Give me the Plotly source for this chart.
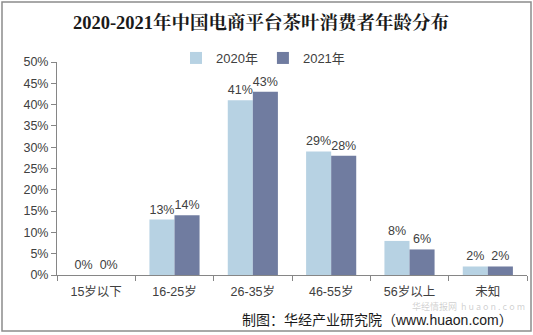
import plotly.graph_objects as go

categories = ["15岁以下", "16-25岁", "26-35岁", "46-55岁", "56岁以上", "未知"]
series_2020 = [0.00, 0.13, 0.41, 0.29, 0.08, 0.02]
series_2021 = [0.00, 0.14, 0.43, 0.28, 0.06, 0.02]
series_names = ["2020年", "2021年"]
colors = ["#b7d2e3", "#707ca0"]

W, H = 533, 335
L, R, T, B = 57, 6, 62, 60
pw = W - L - R
ph = H - T - B

def px_x(x):
    return (x - L) / pw

def px_y(y):
    return (H - B - y) / ph

FONT = "Liberation Sans, Noto Sans CJK SC"

fig = go.Figure()
for name, vals, c in zip(series_names, [series_2020, series_2021], colors):
    fig.add_trace(go.Bar(
        x=categories, y=vals, name=name, marker_color=c,
        marker_line_width=0,
        text=[f"{round(v*100)}%" for v in vals], textposition="outside",
        textfont=dict(size=12.5, color="#404040", family=FONT),
        cliponaxis=False,
    ))

fig.update_layout(
    width=W, height=H,
    margin=dict(l=L, r=R, t=T, b=B),
    paper_bgcolor="white", plot_bgcolor="white",
    barmode="group", bargap=0.36, bargroupgap=0,
    font=dict(family=FONT, size=12, color="#404040"),
    title=dict(text="<b>2020-2021年中国电商平台茶叶消费者年龄分布</b>",
               x=px_x(261), xref="paper", xanchor="center", y=1 - 23 / H, yanchor="middle",
               font=dict(family="Liberation Serif, Noto Serif CJK SC, Noto Sans CJK SC", size=18.5, color="#1a1a1a")),
    legend=dict(orientation="h", x=px_x(263), xanchor="center", xref="paper",
                y=px_y(58), yanchor="middle", font=dict(size=13, color="#404040", family=FONT),
                itemwidth=30, traceorder="normal", bgcolor="rgba(0,0,0,0)"),
    showlegend=True,
)
fig.update_xaxes(
    showline=True, linecolor="#868686", linewidth=1,
    ticks="outside", ticklen=5, tickcolor="#868686", tickson="boundaries",
    tickfont=dict(size=12.5, color="#404040", family=FONT), showgrid=False,
    ticklabelstandoff=5,
)
fig.update_yaxes(
    range=[0, 0.5], dtick=0.05, tickformat=".0%",
    showline=True, linecolor="#868686", linewidth=1,
    ticks="outside", ticklen=5, tickcolor="#868686",
    tickfont=dict(size=12.5, color="#404040", family=FONT), showgrid=False, zeroline=False,
)

# outer border
fig.add_shape(type="rect", xref="paper", yref="paper",
              x0=px_x(2), x1=px_x(531), y0=px_y(331), y1=px_y(2),
              line=dict(color="#8c8c8c", width=1.5), fillcolor="rgba(0,0,0,0)", layer="below")

# watermark
fig.add_annotation(text="华经情报网  h u a o n . c o m", xref="paper", yref="paper", x=px_x(527), y=px_y(306),
                   showarrow=False, font=dict(size=9, color="rgba(150,150,150,0.45)",
                   family="Noto Sans CJK SC"), xanchor="right", yanchor="middle")

# source
fig.add_annotation(text="制图：华经产业研究院（www.huaon.com）", xref="paper", yref="paper",
                   x=px_x(515), y=px_y(320), showarrow=False, xanchor="right", yanchor="middle",
                   font=dict(size=14, color="#1a1a1a", family=FONT))

fig.write_html("out.html")
